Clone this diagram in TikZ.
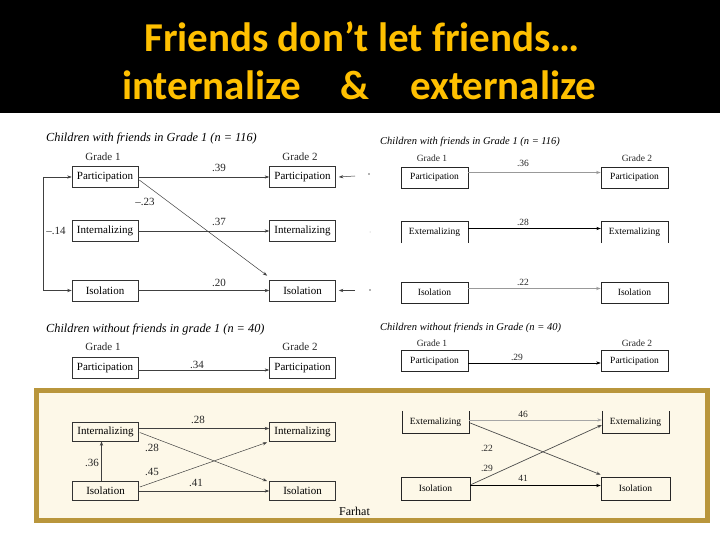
\documentclass[tikz,border=0pt]{standalone}
\usepackage{fontspec}
\setmainfont{Liberation Serif}
\newfontfamily\titlefont{Carlito}
\usetikzlibrary{arrows.meta,calc}
\definecolor{titlegold}{HTML}{FFC000}
\definecolor{boxgold}{HTML}{B9963C}
\definecolor{cream}{HTML}{FDF8E8}
\begin{document}
\begin{tikzpicture}[x=1pt,y=-1pt,
  lbox/.style={draw=black!80, line width=0.6pt, font=\fontsize{11}{12}\selectfont, minimum width=66pt, minimum height=21pt, inner sep=0pt},
  rbox/.style={draw=black!85, line width=0.6pt, font=\fontsize{9.5}{10}\selectfont, minimum width=67pt, minimum height=21pt, inner sep=0pt},
  obox/.style={font=\fontsize{9.5}{10}\selectfont, minimum width=67pt, minimum height=21pt, inner sep=0pt},
  lab/.style={font=\fontsize{11}{12}\selectfont, inner sep=0pt, text=black!85},
  rlab/.style={font=\fontsize{9.5}{10}\selectfont, inner sep=0pt, text=black!85},
  lhead/.style={anchor=base west, font=\itshape\fontsize{12.3}{13}\selectfont, inner sep=0pt},
  rhead/.style={anchor=base west, font=\itshape\fontsize{10.5}{11}\selectfont, inner sep=0pt},
  titletext/.style={text=titlegold, font=\titlefont\bfseries\fontsize{41}{45}\selectfont, inner sep=0pt},
  arr/.style={-{Stealth[length=4.5pt,width=3.2pt]}, line width=0.5pt, draw=black!75},
  garr/.style={-{Stealth[length=4.5pt,width=3.2pt]}, line width=1.3pt, draw=black!40},
  tarr/.style={-{Stealth[length=4.5pt,width=3.2pt]}, line width=0.5pt, draw=black!35},
  darr/.style={-{Stealth[length=4.5pt,width=3.2pt]}, line width=0.7pt, draw=black!70},
  dotm/.style={circle, fill=black!60, inner sep=0pt, minimum size=1.6pt}
]
\useasboundingbox (0,0) rectangle (720,540);
\fill[white] (0,0) rectangle (720,540);
\fill[black] (0,0) rectangle (720,113);

% title
\node[titletext, anchor=base] (t1) at (362,52) {Friends don’t let friends…};
\node[titletext, anchor=base west] (t2) at (122,100) {internalize};
\node[titletext, anchor=base west] (t3) at (340,100) {\&};
\node[titletext, anchor=base west] (t4) at (410,100) {externalize};

% ===== top-left diagram =====
\node[lhead] (hL) at (46,142) {Children with friends in Grade 1 (n = 116)};
\node[lab] (gL1) at (103,157) {Grade 1};
\node[lab] (gL2) at (300,157) {Grade 2};
\node[lbox] (L1P) at (105,177) {Participation};
\node[lbox] (L1I) at (105,231) {Internalizing};
\node[lbox] (L1S) at (105,290.5) {Isolation};
\node[lbox] (L2P) at (302.5,177) {Participation};
\node[lbox] (L2I) at (302.5,231) {Internalizing};
\node[lbox] (L2S) at (302.5,290.5) {Isolation};
\draw[arr] (L1P) -- (L2P);
\draw[arr] (L1I) -- (L2I);
\draw[arr] (L1S) -- (L2S);
\draw[arr] ($(L1P.east)+(1,3)$) -- ($(L2S.north west)+(-2,-4)$);
\coordinate (bk1) at (43,177);
\coordinate (bk2) at (43,290.5);
\draw[arr] (bk1) -- (L1P.west);
\draw[arr] (bk1) -- (bk2) -- (L1S.west);
\node[lab] (l39) at (219,168) {.39};
\node[lab] (l23) at (145,202) {–.23};
\node[lab] (l37) at (219,222) {.37};
\node[lab] (l20) at (219,283) {.20};
\node[lab] (l14) at (56,231) {–.14};
\coordinate (ra1) at (355,176);
\coordinate (ra2) at (355,290.5);
\draw[arr] (ra1) -- ($(L2P.east)+(3,0)$);
\draw[arr] (ra2) -- ($(L2S.east)+(3,0)$);
\node[dotm] (d1) at (369,174) {};
\node[dotm] (d2) at (370,290) {};
\node[dotm, minimum size=1pt, fill=black!30] (d3) at (370,232) {};

% ===== top-right diagram =====
\node[rhead] (hR) at (380,145) {Children with friends in Grade 1 (n = 116)};
\node[rlab] (gR1) at (432,158) {Grade 1};
\node[rlab] (gR2) at (637,158) {Grade 2};
\node[rbox] (R1P) at (434.5,177.5) {Participation};
\node[rbox] (R2P) at (634.5,177.5) {Participation};
\node[obox] (R1E) at (434.5,232.5) {Externalizing};
\node[obox] (R2E) at (634.5,232.5) {Externalizing};
\draw[black!85, line width=0.6pt] (R1E.south west) -- (R1E.north west) -- (R1E.north east) -- (R1E.south east);
\draw[black!85, line width=0.6pt] (R2E.south west) -- (R2E.north west) -- (R2E.north east) -- (R2E.south east);
\node[rbox] (R1S) at (434.5,292.5) {Isolation};
\node[rbox] (R2S) at (634.5,292.5) {Isolation};
\draw[garr] ([yshift=5pt]R1P.east) -- ([yshift=5pt]R2P.west);
\draw[arr, draw=black] ([yshift=4pt]R1E.east) -- ([yshift=4pt]R2E.west);
\draw[garr] ([yshift=4pt]R1S.east) -- ([yshift=4pt]R2S.west);
\node[rlab] (r36) at (523,163) {.36};
\node[rlab] (r28) at (523,222) {.28};
\node[rlab] (r22) at (523,282) {.22};

% ===== middle =====
\node[lhead] (hL2) at (46,332) {Children without friends in grade 1 (n = 40)};
\node[lab] (gM1) at (103,347) {Grade 1};
\node[lab] (gM2) at (300,347) {Grade 2};
\node[lbox] (M1P) at (105,368) {Participation};
\node[lbox] (M2P) at (302.5,368) {Participation};
\draw[arr] ([yshift=-2pt]M1P.east) -- ([yshift=-2pt]M2P.west);
\node[lab] (m34) at (197,365) {.34};

\node[rhead] (hR2) at (380,330) {Children without friends in Grade (n = 40)};
\node[rlab] (gN1) at (432,343) {Grade 1};
\node[rlab] (gN2) at (637,343) {Grade 2};
\node[rbox] (N1P) at (434.5,361) {Participation};
\node[rbox] (N2P) at (634.5,361) {Participation};
\draw[arr, draw=black] ([yshift=-2pt]N1P.east) -- ([yshift=-2pt]N2P.west);
\node[rlab] (n29) at (517,357) {.29};

% ===== gold box =====
\draw[boxgold, line width=5pt, fill=cream] (36.5,390.5) rectangle (707.5,520.5);

\node[lbox, minimum height=19pt] (B1I) at (105.5,431.5) {Internalizing};
\node[lbox, minimum height=19pt] (B1S) at (105.5,491) {Isolation};
\node[lbox, minimum height=19pt] (B2I) at (302.5,431.5) {Internalizing};
\node[lbox, minimum height=19pt] (B2S) at (302.5,491) {Isolation};
\draw[arr] ([yshift=3pt]B1I.east) -- ([yshift=3pt]B2I.west);
\draw[arr] ($(B1I.east)+(1,1)$) -- ($(B2S.north west)+(-2,0)$);
\draw[arr] ($(B1S.east)+(1,-4)$) -- ($(B2I.south west)+(-2,1)$);
\draw[arr] (B1S) -- (B2S);
\draw[arr] ([xshift=-4pt]B1S.north) -- ([xshift=-4pt]B1I.south);
\node[lab] (b28a) at (198,420) {.28};
\node[lab] (b28b) at (152,448) {.28};
\node[lab] (b45) at (152,472) {.45};
\node[lab] (b41) at (196,483) {.41};
\node[lab] (b36) at (92,463) {.36};
\node[anchor=base west, font=\fontsize{12}{13}\selectfont, inner sep=0pt] (far) at (339,515) {Farhat};

\node[obox, minimum height=22pt] (C1E) at (435.5,422) {Externalizing};
\node[obox, minimum height=22pt] (C2E) at (635.5,422) {Externalizing};
\draw[black!85, line width=0.6pt] (C1E.north west) -- (C1E.south west) -- (C1E.south east) -- (C1E.north east);
\draw[black!85, line width=0.6pt] (C2E.north west) -- (C2E.south west) -- (C2E.south east) -- (C2E.north east);
\node[rbox, minimum width=69pt, minimum height=23pt] (C1S) at (435.5,488.5) {Isolation};
\node[rbox, minimum width=69pt, minimum height=23pt] (C2S) at (635.5,488.5) {Isolation};
\draw[tarr] ([yshift=2pt]C1E.east) -- ([yshift=2pt]C2E.west);
\draw[darr] ($(C1E.east)+(1,1)$) -- ($(C2S.north west)+(0,-2)$);
\draw[darr] ($(C1S.east)+(1,-4)$) -- ($(C2E.west)+(0,3)$);
\draw[arr, draw=black] ([yshift=3pt]C1S.east) -- ([yshift=3pt]C2S.west);
\node[rlab] (c46) at (523,414) {46};
\node[rlab] (c22) at (487,448) {.22};
\node[rlab] (c29) at (487,468) {.29};
\node[rlab] (c41) at (523,478) {41};
\end{tikzpicture}
\end{document}
